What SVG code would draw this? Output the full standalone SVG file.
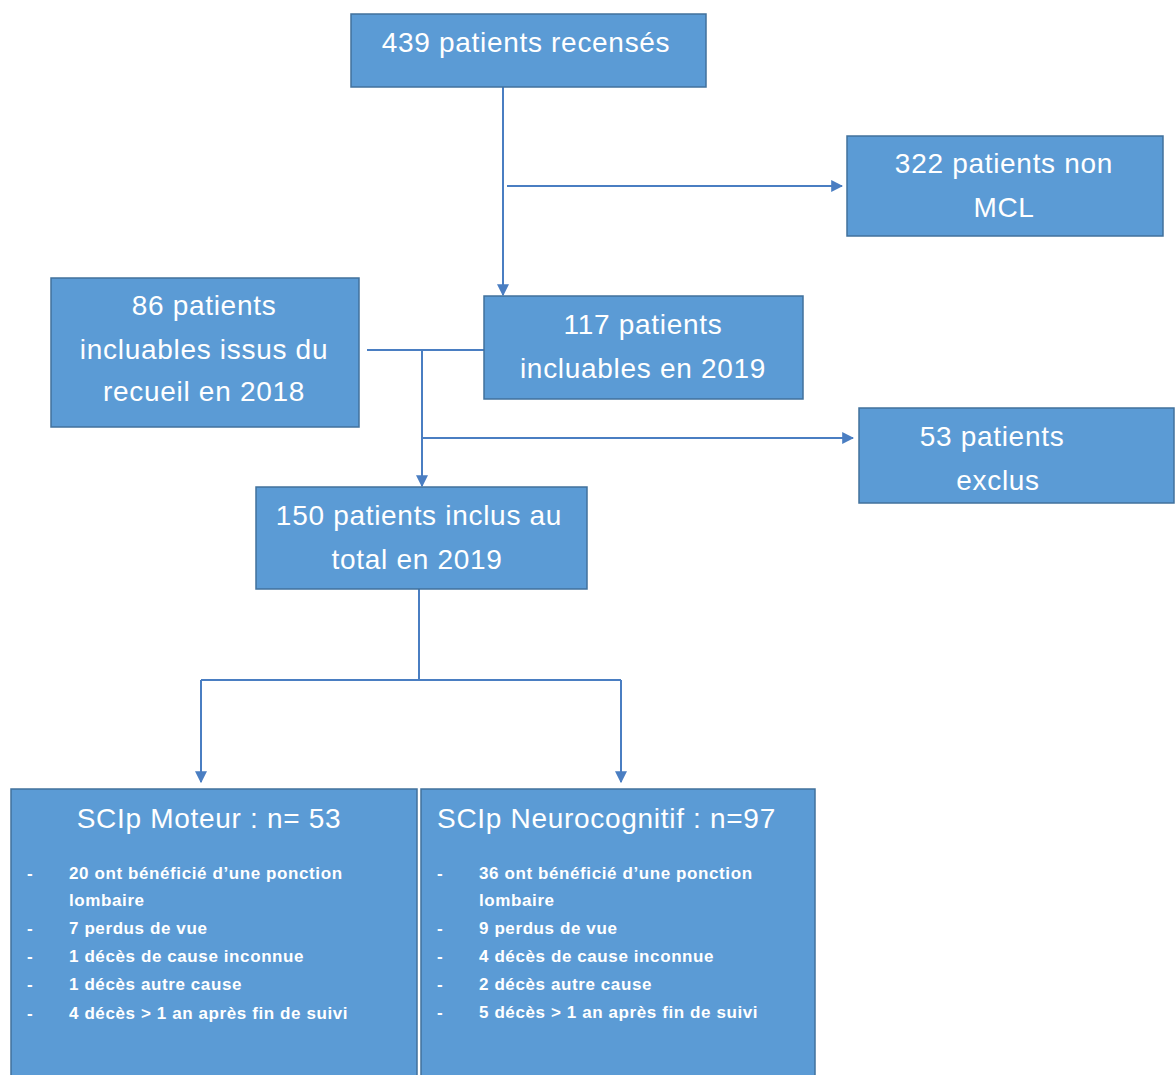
<svg xmlns="http://www.w3.org/2000/svg" width="1175" height="1075" viewBox="0 0 1175 1075">
<style>
.box{fill:#5B9BD5;stroke:#41719C;stroke-width:1.5}
.t{font-family:"Liberation Sans",Arial,sans-serif;font-size:28px;letter-spacing:0.7px;fill:#fff;text-anchor:middle}
.h{font-family:"Liberation Sans",Arial,sans-serif;font-size:28px;letter-spacing:0.7px;fill:#fff}
.b{font-family:"Liberation Sans",Arial,sans-serif;font-size:17px;letter-spacing:0.6px;font-weight:bold;fill:#fff}
.c{fill:none;stroke:#4A7EC2;stroke-width:2}
</style>
<defs>
<marker id="ar" viewBox="0 0 10 10" refX="9" refY="5" markerWidth="6" markerHeight="6" orient="auto" markerUnits="strokeWidth">
<path d="M0,0 L10,5 L0,10 z" fill="#4A7EC2"/>
</marker>
</defs>
<rect width="1175" height="1075" fill="#fff"/>
<g id="connectors">
<path class="c" d="M503,87 V295" marker-end="url(#ar)"/>
<path class="c" d="M507,186 H842" marker-end="url(#ar)"/>
<path class="c" d="M367,350 H484"/>
<path class="c" d="M422,350 V486" marker-end="url(#ar)"/>
<path class="c" d="M422,438 H853" marker-end="url(#ar)"/>
<path class="c" d="M419,589 V680 M201,680 H621"/>
<path class="c" d="M201,680 V782" marker-end="url(#ar)"/>
<path class="c" d="M621,680 V782" marker-end="url(#ar)"/>
</g>
<g id="n1">
<rect class="box" x="351" y="14" width="355" height="73"/>
<text class="t" x="526" y="52">439 patients recensés</text>
</g>
<g id="n2">
<rect class="box" x="847" y="136" width="316" height="100"/>
<text class="t" x="1004" y="173">322 patients non</text>
<text class="t" x="1004" y="217">MCL</text>
</g>
<g id="n3">
<rect class="box" x="484" y="296" width="319" height="103"/>
<text class="t" x="643" y="334">117 patients</text>
<text class="t" x="643" y="378">incluables  en 2019</text>
</g>
<g id="n4">
<rect class="box" x="51" y="278" width="308" height="149"/>
<text class="t" x="204" y="315">86 patients</text>
<text class="t" x="204" y="359">incluables  issus du</text>
<text class="t" x="204" y="401">recueil en 2018</text>
</g>
<g id="n5">
<rect class="box" x="859" y="408" width="315" height="95"/>
<text class="t" x="992" y="446">53 patients</text>
<text class="t" x="998" y="490">exclus</text>
</g>
<g id="n6">
<rect class="box" x="256" y="487" width="331" height="102"/>
<text class="t" x="419" y="525">150 patients inclus au</text>
<text class="t" x="417" y="569">total en 2019</text>
</g>
<g id="n7">
<rect class="box" x="11" y="789" width="406" height="290"/>
<text class="t" x="209" y="828">SCIp Moteur : n= 53</text>
<g class="b">
<text x="27" y="879">-</text><text x="69" y="879">20 ont bénéficié d’une ponction</text>
<text x="69" y="906">lombaire</text>
<text x="27" y="934">-</text><text x="69" y="934">7 perdus de vue</text>
<text x="27" y="962">-</text><text x="69" y="962">1 décès de cause inconnue</text>
<text x="27" y="990">-</text><text x="69" y="990">1 décès autre cause</text>
<text x="27" y="1019">-</text><text x="69" y="1019">4 décès &gt; 1 an après fin de suivi</text>
</g>
</g>
<g id="n8">
<rect class="box" x="421" y="789" width="394" height="290"/>
<text class="h" x="437" y="828">SCIp Neurocognitif : n=97</text>
<g class="b">
<text x="437" y="879">-</text><text x="479" y="879">36 ont bénéficié d’une ponction</text>
<text x="479" y="906">lombaire</text>
<text x="437" y="934">-</text><text x="479" y="934">9 perdus de vue</text>
<text x="437" y="962">-</text><text x="479" y="962">4 décès de cause inconnue</text>
<text x="437" y="990">-</text><text x="479" y="990">2 décès autre cause</text>
<text x="437" y="1018">-</text><text x="479" y="1018">5 décès &gt; 1 an après fin de suivi</text>
</g>
</g>
</svg>
